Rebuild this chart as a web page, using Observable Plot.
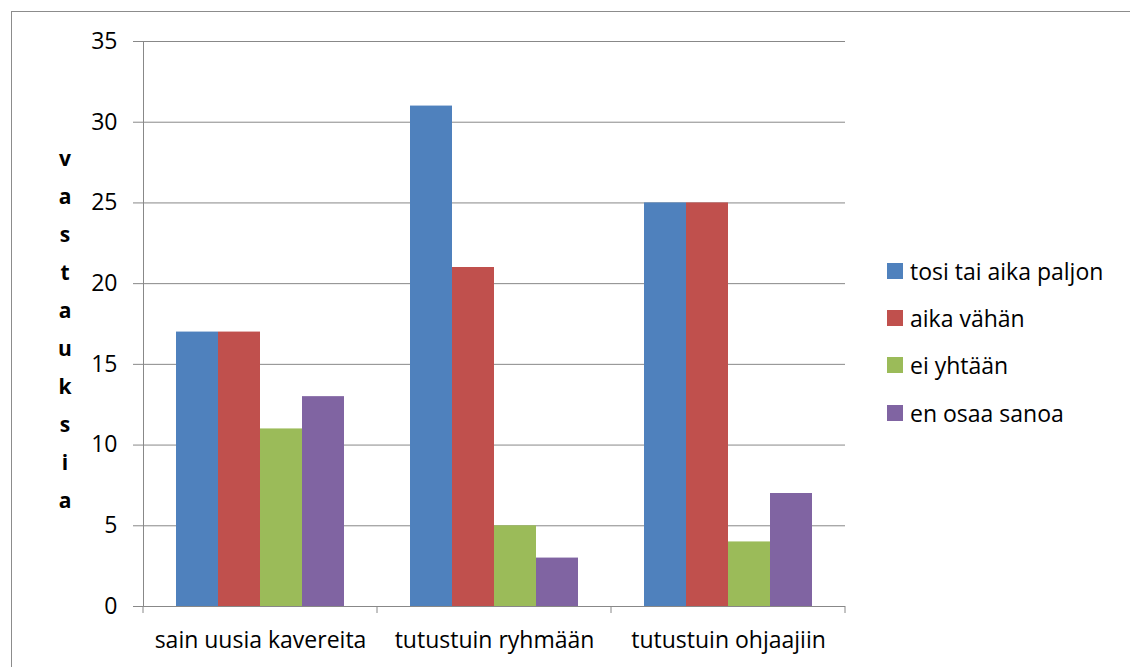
<!DOCTYPE html>
<html><head><meta charset="utf-8">
<script src="https://cdn.jsdelivr.net/npm/d3@7"></script>
<script src="https://cdn.jsdelivr.net/npm/@observablehq/plot@0.6"></script>
<style>
body{margin:0;width:1130px;height:667px;overflow:hidden;position:relative;background:#fff;font-family:"Open Sans", sans-serif;}
#border{position:absolute;left:11px;top:11px;width:1300px;height:900px;border:1px solid #8c8c8c;}
#chart{position:absolute;left:0;top:0;}
#ylabel{position:absolute;left:50px;top:139px;width:30px;text-align:center;font-weight:bold;font-size:21px;line-height:38px;color:#000;}
#legend{position:absolute;left:887px;top:247px;font-size:23px;color:#000;}
#legend .row{height:47.3px;display:flex;align-items:center;}
#legend .sw{width:16px;height:16px;margin-right:7px;}
</style></head>
<body>
<div id="border"></div>
<div id="chart"></div>
<div id="ylabel"></div>
<div id="legend"></div>
<script>
const categories = ["sain uusia kavereita", "tutustuin ryhmään", "tutustuin ohjaajiin"];
const series = ["tosi tai aika paljon", "aika vähän", "ei yhtään", "en osaa sanoa"];
const tosiTaiAikaPaljon = [17, 31, 25];
const aikaVahan = [17, 21, 25];
const eiYhtaan = [11, 5, 4];
const enOsaaSanoa = [13, 3, 7];
const colors = ["#4F81BD", "#C0504D", "#9BBB59", "#8064A2"];
const yTicks = [0, 5, 10, 15, 20, 25, 30, 35];
const yTitle = "vastauksia";

const seriesValues = [tosiTaiAikaPaljon, aikaVahan, eiYhtaan, enOsaaSanoa];
const data = [];
categories.forEach((c, i) => series.forEach((s, j) => data.push({category: c, series: s, value: seriesValues[j][i]})));

const plot = Plot.plot({
  width: 1130, height: 667,
  marginLeft: 143, marginRight: 285, marginTop: 41, marginBottom: 61,
  style: {fontFamily: "'Open Sans', sans-serif", fontSize: "23px", color: "#000", background: "transparent"},
  fx: {domain: categories, paddingInner: 0, paddingOuter: 0, label: null},
  x: {domain: series, paddingInner: 0, paddingOuter: 0.77, axis: null},
  y: {domain: [0, 35], label: null},
  color: {domain: series, range: colors},
  marks: [
    Plot.gridY(yTicks, {stroke: "#888", strokeOpacity: 1}),
    Plot.barY(data, {fx: "category", x: "series", y: "value", fill: "series"}),
    Plot.ruleY([0], {stroke: "#888"}),
    Plot.frame({anchor: "left", stroke: "#888", facetAnchor: "left"}),
    Plot.axisY(yTicks, {tickSize: 10, tickPadding: 16, stroke: "#888", label: null, fontSize: 23}),
    Plot.axisFx({anchor: "bottom", tickSize: 0, tickPadding: 25, label: null, fontSize: 23})
  ]
});
document.getElementById("chart").appendChild(plot);

// boundary ticks on the category axis, positioned with the plot's own scales
const fx = plot.scale("fx"), y = plot.scale("y");
const edges = categories.map(c => fx.apply(c)).concat([fx.apply(categories[categories.length - 1]) + fx.bandwidth]);
const y0 = y.apply(0);
d3.select(plot).append("g").selectAll("line").data(edges).join("line")
  .attr("x1", d => d).attr("x2", d => d).attr("y1", y0).attr("y2", y0 + 7)
  .attr("stroke", "#888");

document.getElementById("ylabel").innerHTML = yTitle.split("").map(ch => `<div>${ch}</div>`).join("");
document.getElementById("legend").innerHTML = series.map((s, i) =>
  `<div class="row"><div class="sw" style="background:${colors[i]}"></div><span>${s}</span></div>`).join("");
</script>
</body></html>
